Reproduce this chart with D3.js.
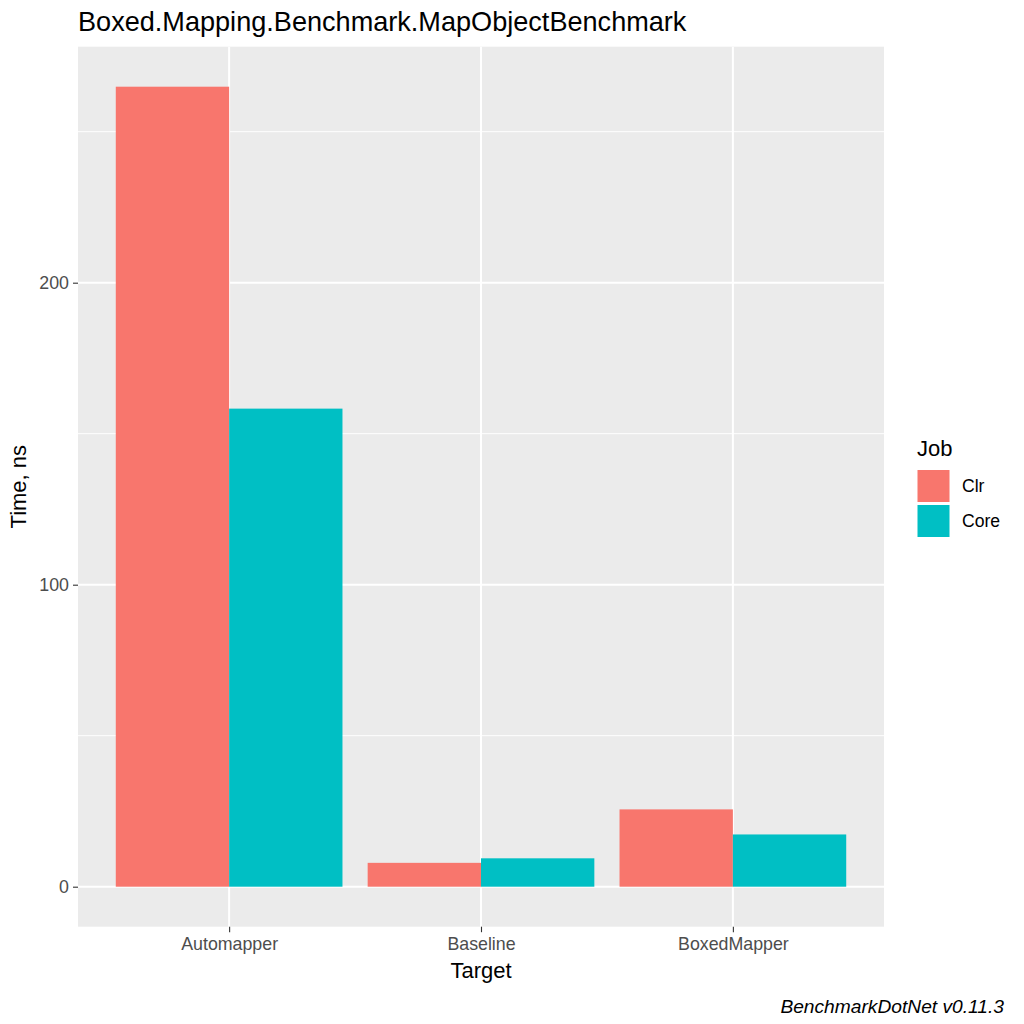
<!DOCTYPE html>
<html><head><meta charset="utf-8">
<script src="https://cdn.jsdelivr.net/npm/d3@7"></script>
<style>body{margin:0;background:#fff}svg{display:block;font-family:"Liberation Sans",Arial,sans-serif}</style>
</head><body><svg id="c" width="1024" height="1024"></svg>
<script>
const targets = ["Automapper", "Baseline", "BoxedMapper"];
const jobs = ["Clr", "Core"];
const clrValues = [264.9, 7.9, 25.6];
const coreValues = [158.3, 9.4, 17.3];
const yTicks = [0, 100, 200];
const yMinor = [50, 150, 250];
const jobColors = ["#F8766D", "#00BFC4"];

const rows = [];
targets.forEach((t, i) => {
  rows.push({target: t, job: "Clr", value: clrValues[i]});
  rows.push({target: t, job: "Core", value: coreValues[i]});
});

const svg = d3.select("#c");
const L = 78, R = 884, T = 46.7, B = 926.7;
const maxV = d3.max(rows, d => d.value);
const y = d3.scaleLinear().domain([-0.05 * maxV, maxV * 1.05]).range([B, T]);
// discrete scale with 0.6 expansion
const unit = (R - L) / (targets.length - 1 + 1.2);
const xc = d3.scalePoint().domain(targets).range([L + 0.6 * unit, R - 0.6 * unit]);
const bw = 0.9 * unit;
const xj = d3.scaleBand().domain(jobs).range([-bw / 2, bw / 2]).padding(0);
const color = d3.scaleOrdinal().domain(jobs).range(jobColors);

svg.append("rect").attr("x", L).attr("y", T).attr("width", R - L).attr("height", B - T).attr("fill", "#EBEBEB");
const g = svg.append("g");
g.selectAll(".ymin").data(yMinor).join("line")
  .attr("x1", L).attr("x2", R).attr("y1", d => y(d)).attr("y2", d => y(d))
  .attr("stroke", "#fff").attr("stroke-width", 1);
g.selectAll(".ymaj").data(yTicks).join("line")
  .attr("x1", L).attr("x2", R).attr("y1", d => y(d)).attr("y2", d => y(d))
  .attr("stroke", "#fff").attr("stroke-width", 2);
g.selectAll(".xmaj").data(targets).join("line")
  .attr("x1", d => xc(d)).attr("x2", d => xc(d)).attr("y1", T).attr("y2", B)
  .attr("stroke", "#fff").attr("stroke-width", 2);

svg.append("g").selectAll("rect").data(rows).join("rect")
  .attr("x", d => xc(d.target) + xj(d.job))
  .attr("width", xj.bandwidth())
  .attr("y", d => y(d.value))
  .attr("height", d => y(0) - y(d.value))
  .attr("fill", d => color(d.job));

// axes
const yAxis = d3.axisLeft(y).tickValues(yTicks).tickSize(5).tickPadding(4).tickFormat(d3.format("d"));
const ya = svg.append("g").attr("transform", `translate(${L},0)`).call(yAxis);
const xAxis = d3.axisBottom(xc).tickSize(5.5).tickPadding(5.5);
const xa = svg.append("g").attr("transform", `translate(0,${B})`).call(xAxis);
[ya, xa].forEach(a => {
  a.select(".domain").remove();
  a.selectAll(".tick line").attr("stroke", "#333333").attr("stroke-width", 1.1);
  a.selectAll(".tick text").attr("fill", "#4D4D4D").style("font-size", "17.8px").style("font-family", '"Liberation Sans",Arial,sans-serif');
});

svg.append("text").attr("x", L).attr("y", 31).style("font-size", "27.1px").attr("fill", "#000")
  .text("Boxed.Mapping.Benchmark.MapObjectBenchmark");
svg.append("text").attr("x", (L + R) / 2).attr("y", 978).attr("text-anchor", "middle").style("font-size", "22px")
  .text("Target");
svg.append("text").attr("transform", `translate(26,${(T + B) / 2}) rotate(-90)`).attr("text-anchor", "middle").style("font-size", "22px")
  .text("Time, ns");

// legend
const lg = svg.append("g");
lg.append("text").attr("x", 917).attr("y", 456).style("font-size", "22px").text("Job");
jobs.forEach((j, i) => {
  const ky = 469 + i * 35;
  lg.append("rect").attr("x", 916.5).attr("y", ky).attr("width", 34).attr("height", 34).attr("fill", "#fff");
  lg.append("rect").attr("x", 917.5).attr("y", ky + 1).attr("width", 32).attr("height", 32).attr("fill", color(j));
  lg.append("text").attr("x", 962).attr("y", ky + 17).attr("dy", "0.35em").style("font-size", "17.6px").text(j);
});

svg.append("text").attr("x", 1004).attr("y", 1013).attr("text-anchor", "end").style("font-size", "19.2px").style("font-style", "italic")
  .text("BenchmarkDotNet v0.11.3");
</script></body></html>
